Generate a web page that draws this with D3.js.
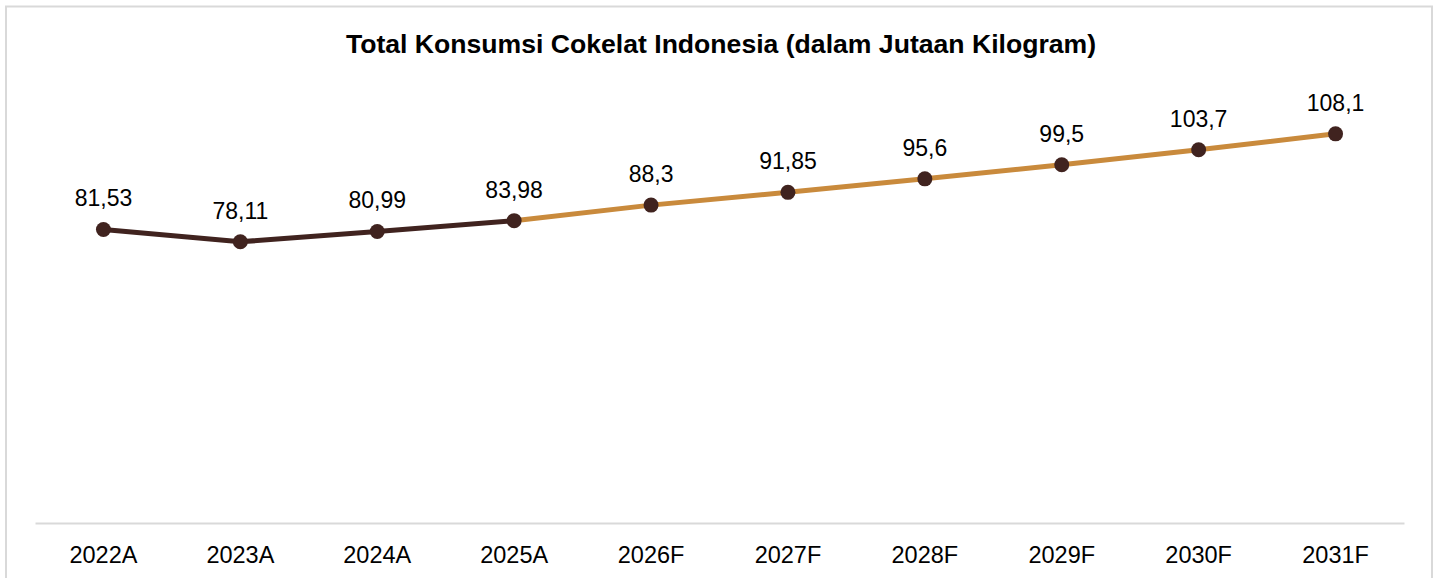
<!DOCTYPE html>
<html>
<head>
<meta charset="utf-8">
<script src="https://cdn.jsdelivr.net/npm/d3@7"></script>
<style>
  body { margin: 0; background: #fff; }
  text { font-family: "Liberation Sans", Arial, sans-serif; }
</style>
</head>
<body>
<div id="chart"></div>
<script>
const years = ["2022A", "2023A", "2024A", "2025A", "2026F", "2027F", "2028F", "2029F", "2030F", "2031F"];
const consumption = [81.53, 78.11, 80.99, 83.98, 88.3, 91.85, 95.6, 99.5, 103.7, 108.1];
const valueLabels = ["81,53", "78,11", "80,99", "83,98", "88,3", "91,85", "95,6", "99,5", "103,7", "108,1"];
const lastActual = 3; // index of 2025A, where forecast starts

const width = 1439, height = 578;
const margin = { top: 91, right: 35, bottom: 55, left: 35 };

const data = years.map((y, i) => ({ year: y, value: consumption[i], label: valueLabels[i], i }));

const svg = d3.select("#chart")
  .append("svg")
  .attr("width", width)
  .attr("height", height);

// outer frame
svg.append("rect")
  .attr("x", 6)
  .attr("y", 6.5)
  .attr("width", 1426)
  .attr("height", 600)
  .attr("fill", "none")
  .attr("stroke", "#d9d9d9")
  .attr("stroke-width", 2);

svg.append("text")
  .attr("x", 721)
  .attr("y", 53)
  .attr("text-anchor", "middle")
  .style("font-size", "26.6px")
  .style("font-weight", "bold")
  .text("Total Konsumsi Cokelat Indonesia (dalam Jutaan Kilogram)");

const xScale = d3.scaleBand()
  .domain(years)
  .range([margin.left, width - margin.right]);

const yScale = d3.scaleLinear()
  .domain([0, 120])
  .range([height - margin.bottom, margin.top]);

const cx = d => xScale(d.year) + xScale.bandwidth() / 2;

// x axis
const xAxis = svg.append("g")
  .attr("transform", `translate(0, ${yScale(0)})`)
  .call(d3.axisBottom(xScale).tickSize(0).tickPadding(23));

xAxis.select(".domain")
  .attr("stroke", "#d9d9d9")
  .attr("stroke-width", 2);

xAxis.selectAll("text")
  .style("font-size", "23.5px")
  .attr("fill", "#000");

const line = d3.line()
  .x(cx)
  .y(d => yScale(d.value));

svg.append("path")
  .datum(data.slice(lastActual))
  .attr("d", line)
  .attr("fill", "none")
  .attr("stroke", "#c98a3c")
  .attr("stroke-width", 5);

svg.append("path")
  .datum(data.slice(0, lastActual + 1))
  .attr("d", line)
  .attr("fill", "none")
  .attr("stroke", "#40231f")
  .attr("stroke-width", 5);

svg.selectAll(".dot")
  .data(data)
  .enter()
  .append("circle")
  .attr("class", "dot")
  .attr("cx", cx)
  .attr("cy", d => yScale(d.value))
  .attr("r", 7.5)
  .attr("fill", "#40231f");

svg.selectAll(".vlabel")
  .data(data)
  .enter()
  .append("text")
  .attr("class", "vlabel")
  .attr("x", cx)
  .attr("y", d => yScale(d.value) - 23)
  .attr("text-anchor", "middle")
  .style("font-size", "23px")
  .text(d => d.label);
</script>
</body>
</html>
